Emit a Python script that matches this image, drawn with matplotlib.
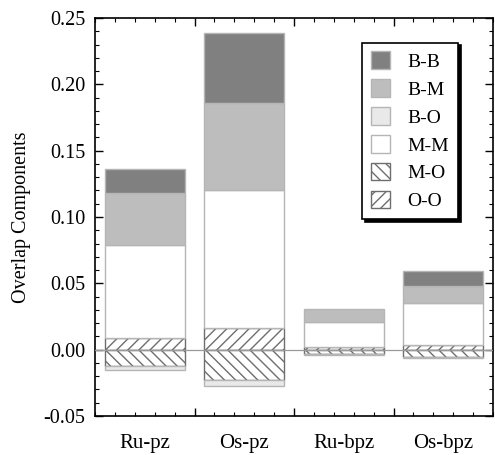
import numpy as np
import matplotlib
matplotlib.use("Agg")
from matplotlib import pyplot as plt
from matplotlib.ticker import MultipleLocator

# Données
categories = ["Ru-pz", "Os-pz", "Ru-bpz", "Os-bpz"]
series = ["O-O", "M-O", "B-O", "M-M", "B-M", "B-B"]
oo = [0.009, 0.016, 0.002, 0.0035]
mo = [-0.0125, -0.023, -0.003, -0.0057]
bo = [-0.003, -0.0045, -0.0005, -0.0008]
mm = [0.0697, 0.104, 0.019, 0.032]
bm = [0.0393, 0.066, 0.0094, 0.0125]
bb = [0.018, 0.053, -0.0007, 0.011]
values = [oo, mo, bo, mm, bm, bb]

# Styles
faces = {"B-B": "#808080", "B-M": "#bdbdbd", "B-O": "#e9e9e9",
         "M-M": "#ffffff", "M-O": "#ffffff", "O-O": "#ffffff"}
hatches = {"M-O": "\\\\\\", "O-O": "///"}
legend_order = ["B-B", "B-M", "B-O", "M-M", "M-O", "O-O"]

plt.rcParams['font.family'] = ['Liberation Serif', 'DejaVu Serif']
plt.rcParams['axes.unicode_minus'] = False
plt.rcParams['hatch.linewidth'] = 1.0

fig = plt.figure(figsize=(4.95, 4.55), dpi=100)
ax = fig.add_axes([95 / 495, 1 - 416 / 455, 398 / 495, 398 / 455])

x = np.arange(len(categories)) + 0.5
pos = np.zeros(len(categories))
neg = np.zeros(len(categories))
handles = {}
for name, vals in zip(series, values):
    vals = np.array(vals)
    bottom = np.where(vals >= 0, pos, neg)
    ec = "#6e6e6e" if name in hatches else "#b5b5b5"
    bars = ax.bar(x, vals, 0.8, bottom=bottom, color=faces[name],
                  edgecolor=ec, linewidth=1.0, hatch=hatches.get(name),
                  label=name, zorder=2)
    handles[name] = bars
    pos = pos + np.clip(vals, 0, None)
    neg = neg + np.clip(vals, None, 0)

ax.axhline(0, color="#9a9a9a", linewidth=0.9, zorder=3)

ax.set_xlim(0, 4)
ax.set_ylim(-0.05, 0.25)
ax.yaxis.set_major_locator(MultipleLocator(0.05))
ax.yaxis.set_minor_locator(MultipleLocator(0.01))
ax.yaxis.set_major_formatter(plt.FormatStrFormatter('%.2f'))
ax.set_xticks([1, 2, 3])
ax.set_xticklabels([])
ax.xaxis.set_minor_locator(MultipleLocator(0.2))
ax.tick_params(which='both', direction='in', top=True, right=True)
ax.tick_params(which='major', length=6, width=1.0)
ax.tick_params(which='minor', length=3, width=0.8)
ax.tick_params(axis='y', labelsize=14.5, pad=7)
for sp in ax.spines.values():
    sp.set_linewidth(1.2)

# Étiquettes des catégories sur un axe secondaire
sec = ax.secondary_xaxis('bottom')
sec.set_xticks(x)
sec.set_xticklabels(categories, fontsize=15)
sec.tick_params(length=0, pad=13)
sec.spines['bottom'].set_visible(False)

ax.set_ylabel("Overlap Components", fontsize=14.5, labelpad=9)

leg = ax.legend([handles[n] for n in legend_order], legend_order,
                loc='upper right', bbox_to_anchor=(0.912, 0.938),
                borderaxespad=0,
                fontsize=14, handlelength=1.0, handleheight=1.0,
                labelspacing=0.44, handletextpad=0.9, borderpad=0.45,
                fancybox=False, shadow={'color': 'black', 'alpha': 1},
                frameon=True, edgecolor='black', framealpha=1)
leg.get_frame().set_linewidth(1.2)

fig.savefig("out.png", dpi=100)
